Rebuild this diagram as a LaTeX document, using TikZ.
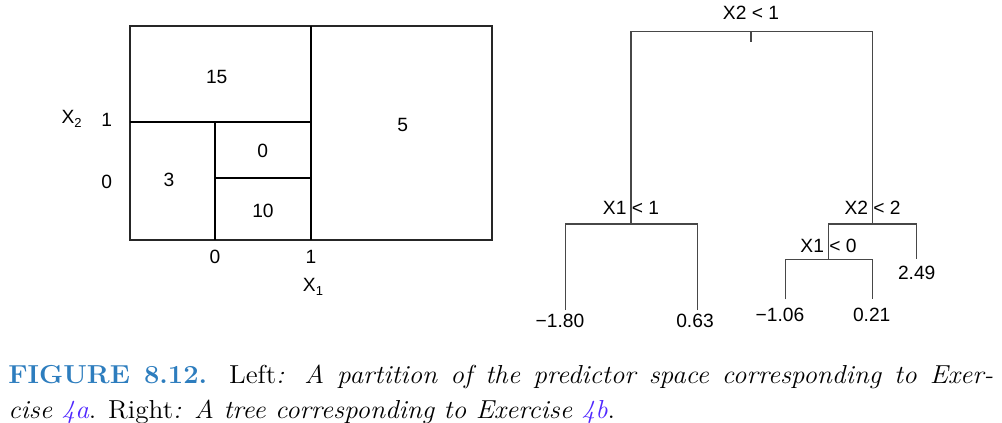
\documentclass[tikz,border=0pt]{standalone}
\usepackage{fontspec}
\newfontfamily\helv{Liberation Sans}
\usetikzlibrary{positioning}
\definecolor{figblue}{RGB}{45,125,190}
\definecolor{refblue}{RGB}{80,40,255}

\begin{document}
\begin{tikzpicture}[x=0.5pt, y=-0.5pt, font=\helv\fontsize{9.6}{11}\selectfont,
      part/.style={draw=black, line width=1pt},
      branch/.style={draw=black!72, line width=0.6pt},
      lbl/.style={inner sep=0pt}]
    \useasboundingbox (0,0) rectangle (1002,423);

    % partition of the predictor space
    \draw[part, draw=black!85] (130,25.7) rectangle (491.7,240);
    \draw[part] (311,25.7) -- (311,240);
    \draw[part] (130,121.7) -- (311,121.7);
    \draw[part] (215,121.7) -- (215,240);
    \draw[part] (215,178) -- (311,178);

    \node[lbl] (r15) at (216.7,76.7) {15};
    \node[lbl] (r5)  at (402.7,125)  {5};
    \node[lbl] (r0)  at (262.7,151)  {0};
    \node[lbl] (r3)  at (169,180)    {3};
    \node[lbl] (r10) at (263,211)    {10};

    \node[lbl] (xtwo) at (71.7,119)  {X\raisebox{-0.35ex}{\fontsize{6.5}{7}\selectfont 2}};
    \node[lbl] (yone) at (106.7,120) {1};
    \node[lbl] (yzero) at (106.7,181.7) {0};
    \node[lbl] (xzero) at (215,257) {0};
    \node[lbl] (xone)  at (311,257) {1};
    \node[lbl] (xlab)  at (313,287) {X\raisebox{-0.35ex}{\fontsize{6.5}{7}\selectfont 1}};

    % regression tree
    \coordinate (root) at (751,31.7);
    \coordinate (tick) at (751,42.3);
    \coordinate (sa) at (631,224);
    \coordinate (sb) at (872.3,224);
    \coordinate (sc) at (828.3,259.3);
    \coordinate (la) at (565.7,310);
    \coordinate (lb) at (697.3,310);
    \coordinate (lc) at (785.7,299.3);
    \coordinate (ld) at (872.3,299.3);
    \coordinate (le) at (916.7,259.3);

    \draw[branch] (sa) |- (root) -| (sb);
    \draw[branch] (root) -- (tick);
    \draw[branch] (la) |- (sa) -| (lb);
    \draw[branch] (sc) |- (sb) -| (le);
    \draw[branch] (lc) |- (sc) -| (ld);

    \node[lbl] (ta) at (751,12.3)  {X2 < 1};
    \node[lbl] (tb) at (631,208)   {X1 < 1};
    \node[lbl] (tc) at (872.6,207.7) {X2 < 2};
    \node[lbl] (td) at (828.5,245.7) {X1 < 0};

    \node[lbl] (va) at (560,320.7)   {−1.80};
    \node[lbl] (vb) at (695,320.7)   {0.63};
    \node[lbl] (vc) at (780,315)     {−1.06};
    \node[lbl] (vd) at (871.7,315)   {0.21};
    \node[lbl] (ve) at (916.7,273.3) {2.49};

    % caption
    \node[anchor=north west, inner sep=0pt, text width=469pt, align=justify,
          xscale=1.05, transform shape,
          font=\rmfamily\fontsize{13}{17.5}\selectfont] (cap) at (8,364.5)
      {{\color{figblue}\bfseries FIGURE 8.12.} Left\textit{: A partition of the predictor space corresponding to Exer-\linebreak cise {\color{refblue}4a}}. Right\textit{: A tree corresponding to Exercise {\color{refblue}4b}}.};
  \end{tikzpicture}
\end{document}
